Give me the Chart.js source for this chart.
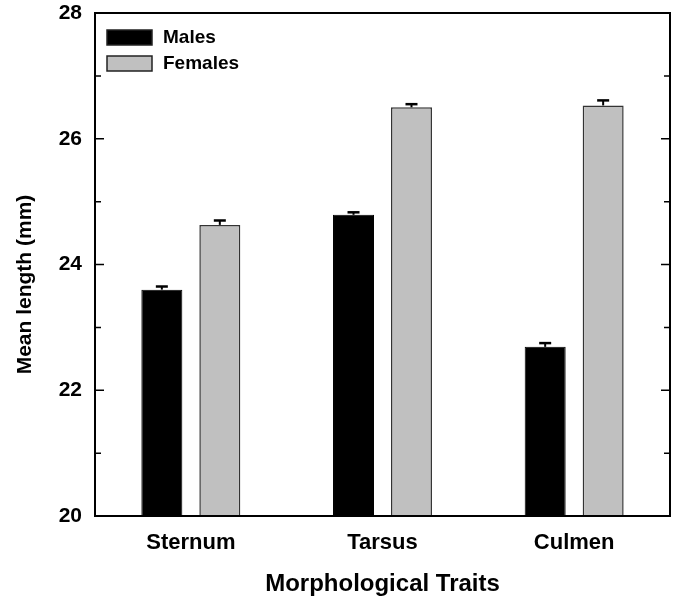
<!DOCTYPE html>
<html>
<head>
<meta charset="utf-8">
<script src="https://cdn.jsdelivr.net/npm/chart.js@4.4.0/dist/chart.umd.min.js"></script>
<style>
html,body{margin:0;padding:0;background:#fff;}
#wrap{width:673px;height:599px;position:relative;}
</style>
</head>
<body>
<div id="wrap"><canvas id="c" width="673" height="599"></canvas></div>
<script>
const categories = ["Sternum", "Tarsus", "Culmen"];
const seriesNames = ["Males", "Females"];
const males = [23.60, 24.79, 22.69];
const females = [24.63, 26.50, 26.53];
const malesErr = [0.05, 0.04, 0.06];
const femalesErr = [0.07, 0.05, 0.08];
const yMin = 20, yMax = 28;
const xTitle = "Morphological Traits";
const yTitle = "Mean length (mm)";

const FONT = "'Liberation Sans', Arial, sans-serif";

const errorBars = {
  id: 'errorBars',
  afterDatasetsDraw(chart) {
    const ctx = chart.ctx;
    const y = chart.scales.y;
    chart.data.datasets.forEach((ds, di) => {
      const meta = chart.getDatasetMeta(di);
      meta.data.forEach((bar, i) => {
        const v = ds.data[i], e = ds.err[i];
        const top = y.getPixelForValue(v + e);
        ctx.save();
        ctx.strokeStyle = '#000';
        ctx.lineWidth = 2;
        ctx.beginPath();
        ctx.moveTo(bar.x, bar.y);
        ctx.lineTo(bar.x, top);
        ctx.stroke();
        ctx.lineWidth = 2.5;
        ctx.beginPath();
        ctx.moveTo(bar.x - 6, top);
        ctx.lineTo(bar.x + 6, top);
        ctx.stroke();
        ctx.restore();
      });
    });
  }
};

const frame = {
  id: 'frame',
  afterDraw(chart) {
    const ctx = chart.ctx;
    const a = chart.chartArea;
    const y = chart.scales.y;
    ctx.save();
    ctx.strokeStyle = '#000';
    ctx.lineWidth = 2;
    ctx.strokeRect(a.left, a.top, a.right - a.left, a.bottom - a.top);
    // inward ticks on left and right
    ctx.lineWidth = 1.5;
    y.ticks.forEach(t => {
      const py = y.getPixelForValue(t.value);
      const len = (t.value % 2 === 0) ? 9 : 6;
      ctx.beginPath();
      ctx.moveTo(a.left, py); ctx.lineTo(a.left + len, py);
      ctx.moveTo(a.right, py); ctx.lineTo(a.right - len, py);
      ctx.stroke();
    });
    // legend inside
    const boxX = a.left + 12, boxW = 45, boxH = 15;
    chart.data.datasets.forEach((ds, i) => {
      const by = a.top + 17 + i * 26;
      ctx.fillStyle = ds.backgroundColor;
      ctx.fillRect(boxX, by, boxW, boxH);
      ctx.lineWidth = 1.5;
      ctx.strokeStyle = '#222';
      ctx.strokeRect(boxX, by, boxW, boxH);
      ctx.fillStyle = '#000';
      ctx.font = "bold 19px " + FONT;
      ctx.textBaseline = 'middle';
      ctx.textAlign = 'left';
      ctx.fillText(ds.label, boxX + boxW + 11, by + boxH / 2);
    });
    // axis titles
    ctx.fillStyle = '#000';
    ctx.font = "bold 24px " + FONT;
    ctx.textAlign = 'center';
    ctx.textBaseline = 'middle';
    ctx.fillText(xTitle, (a.left + a.right) / 2, 584);
    ctx.save();
    ctx.translate(25, (a.top + a.bottom) / 2 + 20);
    ctx.rotate(-Math.PI / 2);
    ctx.font = "bold 21px " + FONT;
    ctx.fillText(yTitle, 0, 0);
    ctx.restore();
    ctx.restore();
  }
};

new Chart(document.getElementById('c'), {
  type: 'bar',
  data: {
    labels: categories,
    datasets: [
      { label: seriesNames[0], data: males, err: malesErr, backgroundColor: '#000000', borderColor: '#000000', borderWidth: 1 },
      { label: seriesNames[1], data: females, err: femalesErr, backgroundColor: '#c0c0c0', borderColor: '#333333', borderWidth: 1.5 }
    ]
  },
  options: {
    responsive: false,
    animation: false,
    devicePixelRatio: 1,
    layout: { padding: { top: 13, right: 3, left: 0, bottom: 0 } },
    categoryPercentage: 0.605,
    barPercentage: 0.707,
    plugins: { legend: { display: false }, tooltip: { enabled: false } },
    scales: {
      x: {
        grid: { display: false, drawTicks: false },
        border: { display: false },
        ticks: { color: '#000', font: { family: FONT, size: 22, weight: 'bold' }, padding: 14, maxRotation: 0 },
        afterFit(s) { s.height = 83; s.paddingLeft = 0; s.paddingRight = 0; }
      },
      y: {
        min: yMin, max: yMax,
        grid: { display: false, drawTicks: false },
        border: { display: false },
        ticks: {
          stepSize: 1, color: '#000', padding: 13,
          font: { family: FONT, size: 21, weight: 'bold' },
          callback: v => (v % 2 === 0 ? String(v) : '')
        },
        afterFit(s) { s.width = 95; s.paddingTop = 0; s.paddingBottom = 0; }
      }
    }
  },
  plugins: [errorBars, frame]
});
</script>
</body>
</html>
